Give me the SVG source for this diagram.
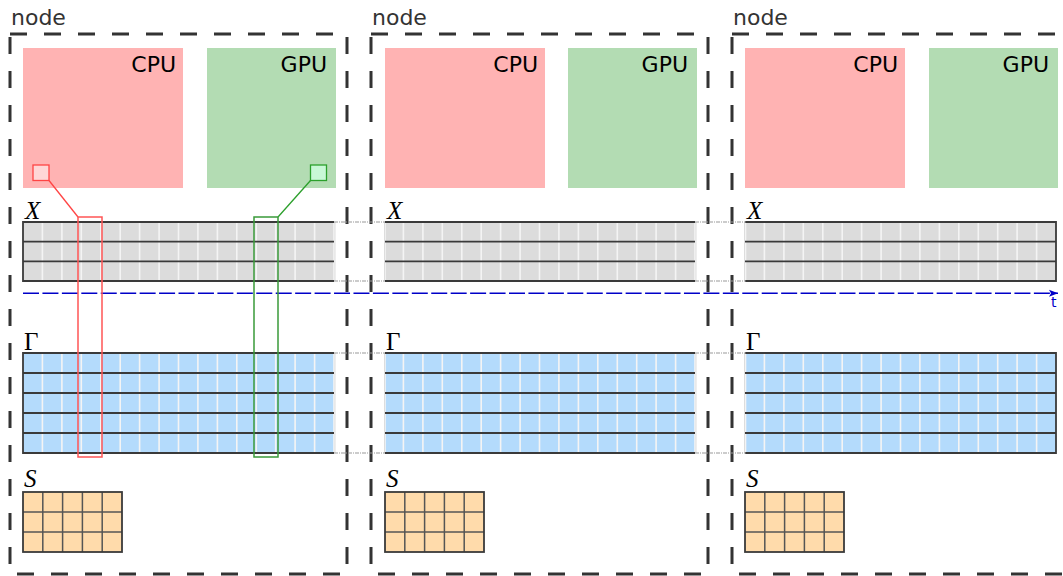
<svg xmlns="http://www.w3.org/2000/svg" xmlns:xlink="http://www.w3.org/1999/xlink" width="1063" height="576" viewBox="0 0 1063 576">
<defs>
<style>
.frame{fill:none;stroke:#333;stroke-width:3;stroke-dasharray:17 17}
.nlabel{font-family:"DejaVu Sans",sans-serif;font-size:22px;fill:#333}
.dev{font-family:"DejaVu Sans",sans-serif;font-size:22px;fill:#000;text-anchor:end}
.cpu{fill:#ffb3b3}
.gpu{fill:#b3dcb3}
.xfill{fill:#dcdcdc}
.gfill{fill:#b4dbfc}
.sfill{fill:#ffdbab}
.wl{fill:none;stroke:#f4f4f4;stroke-width:1.6}
.dl{fill:none;stroke:#3a3a3a;stroke-width:1.8}
.border{fill:none;stroke:#3a3a3a;stroke-width:1.8}
.sl{fill:none;stroke:#555;stroke-width:1.5}
.math{font-family:"Liberation Serif",serif;font-size:25px;fill:#000}
.it{font-style:italic}
.dot{fill:none;stroke:#999;stroke-width:1;stroke-dasharray:4 1 1 1}
.dotv{fill:none;stroke:#ddd;stroke-width:1}
</style>
<marker id="arr" markerWidth="10" markerHeight="8" refX="9" refY="4" orient="auto" markerUnits="userSpaceOnUse">
<path d="M0,0.5 L9,4 L0,7.5 L2,4 Z" fill="#0000c8"/>
</marker>
</defs>
<rect width="1063" height="576" fill="#fff"/>

<g id="node1">
<rect class="frame" x="10" y="34" width="337" height="540"/>
<text class="nlabel" x="11" y="25">node</text>
<rect class="cpu" x="23" y="48" width="160" height="140"/>
<text class="dev" x="176" y="72">CPU</text>
<rect class="gpu" x="207" y="48" width="129" height="140"/>
<text class="dev" x="327" y="72">GPU</text>
<text class="math it" x="25" y="219">X</text>
<rect class="xfill" x="23" y="222" width="311" height="59"/>
<path class="wl" d="M42.4 222v59M61.9 222v59M81.3 222v59M100.8 222v59M120.2 222v59M139.6 222v59M159.1 222v59M178.5 222v59M197.9 222v59M217.4 222v59M236.8 222v59M256.3 222v59M275.7 222v59M295.1 222v59M314.6 222v59M334 222v59"/>
<path class="dl" d="M23 241.7H334M23 261.3H334"/>
<path class="border" d="M334 222H23V281H334"/>
<text class="math" x="24" y="350">Γ</text>
<rect class="gfill" x="23" y="353" width="311" height="100"/>
<path class="wl" d="M42.4 353v100M61.9 353v100M81.3 353v100M100.8 353v100M120.2 353v100M139.6 353v100M159.1 353v100M178.5 353v100M197.9 353v100M217.4 353v100M236.8 353v100M256.3 353v100M275.7 353v100M295.1 353v100M314.6 353v100M334 353v100"/>
<path class="dl" d="M23 373H334M23 393H334M23 413H334M23 433H334"/>
<path class="border" d="M334 353H23V453H334"/>
<text class="math it" x="24" y="487">S</text>
<rect class="sfill" x="23" y="492" width="99" height="60"/>
<path class="sl" d="M42.8 492v60M62.6 492v60M82.4 492v60M102.2 492v60M23 512H122M23 532H122"/>
<rect class="border" x="23" y="492" width="99" height="60"/>
</g>

<g id="node2" transform="translate(361,0)">
<rect class="frame" x="10" y="34" width="337" height="540"/>
<text class="nlabel" x="11" y="25">node</text>
<rect class="cpu" x="24" y="48" width="160" height="140"/>
<text class="dev" x="177" y="72">CPU</text>
<rect class="gpu" x="207" y="48" width="129" height="140"/>
<text class="dev" x="327" y="72">GPU</text>
<text class="math it" x="26" y="219">X</text>
<rect class="xfill" x="24" y="222" width="310" height="59"/>
<path class="wl" d="M24 222v59M42.4 222v59M61.9 222v59M81.3 222v59M100.8 222v59M120.2 222v59M139.6 222v59M159.1 222v59M178.5 222v59M197.9 222v59M217.4 222v59M236.8 222v59M256.3 222v59M275.7 222v59M295.1 222v59M314.6 222v59M334 222v59"/>
<path class="dl" d="M24 241.7H334M24 261.3H334"/>
<path class="border" d="M24 222H334M24 281H334"/>
<text class="math" x="25" y="350">Γ</text>
<rect class="gfill" x="24" y="353" width="310" height="100"/>
<path class="wl" d="M24 353v100M42.4 353v100M61.9 353v100M81.3 353v100M100.8 353v100M120.2 353v100M139.6 353v100M159.1 353v100M178.5 353v100M197.9 353v100M217.4 353v100M236.8 353v100M256.3 353v100M275.7 353v100M295.1 353v100M314.6 353v100M334 353v100"/>
<path class="dl" d="M24 373H334M24 393H334M24 413H334M24 433H334"/>
<path class="border" d="M24 353H334M24 453H334"/>
<text class="math it" x="25" y="487">S</text>
<rect class="sfill" x="24" y="492" width="99" height="60"/>
<path class="sl" d="M43.8 492v60M63.6 492v60M83.4 492v60M103.2 492v60M24 512H123M24 532H123"/>
<rect class="border" x="24" y="492" width="99" height="60"/>
</g>

<g id="node3" transform="translate(722,0)">
<rect class="frame" x="10" y="34" width="337" height="540"/>
<text class="nlabel" x="11" y="25">node</text>
<rect class="cpu" x="23" y="48" width="160" height="140"/>
<text class="dev" x="176" y="72">CPU</text>
<rect class="gpu" x="207" y="48" width="129" height="140"/>
<text class="dev" x="327" y="72">GPU</text>
<text class="math it" x="25" y="219">X</text>
<rect class="xfill" x="23" y="222" width="311" height="59"/>
<path class="wl" d="M23.5 222v59M42.4 222v59M61.9 222v59M81.3 222v59M100.8 222v59M120.2 222v59M139.6 222v59M159.1 222v59M178.5 222v59M197.9 222v59M217.4 222v59M236.8 222v59M256.3 222v59M275.7 222v59M295.1 222v59M314.6 222v59"/>
<path class="dl" d="M23 241.7H334M23 261.3H334"/>
<path class="border" d="M23 222H334V281H23"/>
<text class="math" x="24" y="350">Γ</text>
<rect class="gfill" x="23" y="353" width="311" height="100"/>
<path class="wl" d="M23.5 353v100M42.4 353v100M61.9 353v100M81.3 353v100M100.8 353v100M120.2 353v100M139.6 353v100M159.1 353v100M178.5 353v100M197.9 353v100M217.4 353v100M236.8 353v100M256.3 353v100M275.7 353v100M295.1 353v100M314.6 353v100"/>
<path class="dl" d="M23 373H334M23 393H334M23 413H334M23 433H334"/>
<path class="border" d="M23 353H334V453H23"/>
<text class="math it" x="24" y="487">S</text>
<rect class="sfill" x="23" y="492" width="99" height="60"/>
<path class="sl" d="M42.8 492v60M62.6 492v60M82.4 492v60M102.2 492v60M23 512H122M23 532H122"/>
<rect class="border" x="23" y="492" width="99" height="60"/>
</g>

<g id="connectors">
<path class="dotv" d="M335 222V281M384.5 222V281M335 353V453M384.5 353V453M696 222V281M744.5 222V281M696 353V453M744.5 353V453"/>
<path class="dot" d="M334 222H385M334 281H385M334 353H385M334 453H385M695 222H746M695 281H746M695 353H746M695 453H746"/>
<line x1="23" y1="293.3" x2="1058" y2="293.3" stroke="#0000c8" stroke-width="1.4" stroke-dasharray="16 3.44" marker-end="url(#arr)"/>
<text x="1051" y="307" font-family="DejaVu Sans,sans-serif" font-size="14" fill="#0000c8">t</text>
<rect x="33" y="165" width="16" height="15.5" fill="#ffd6d6" stroke="#f44" stroke-width="1.3"/>
<line x1="49" y1="180.5" x2="78" y2="217" stroke="#f44" stroke-width="1.3"/>
<rect x="78" y="217" width="24" height="240" fill="none" stroke="#f55" stroke-width="1.5"/>
<rect x="310.5" y="165" width="16" height="15.5" fill="#c8f8d6" stroke="#2ca02c" stroke-width="1.3"/>
<line x1="310.5" y1="180.5" x2="278" y2="217" stroke="#2ca02c" stroke-width="1.3"/>
<rect x="254" y="217" width="24" height="240" fill="none" stroke="#3a9a3a" stroke-width="1.5"/>
</g>
</svg>
